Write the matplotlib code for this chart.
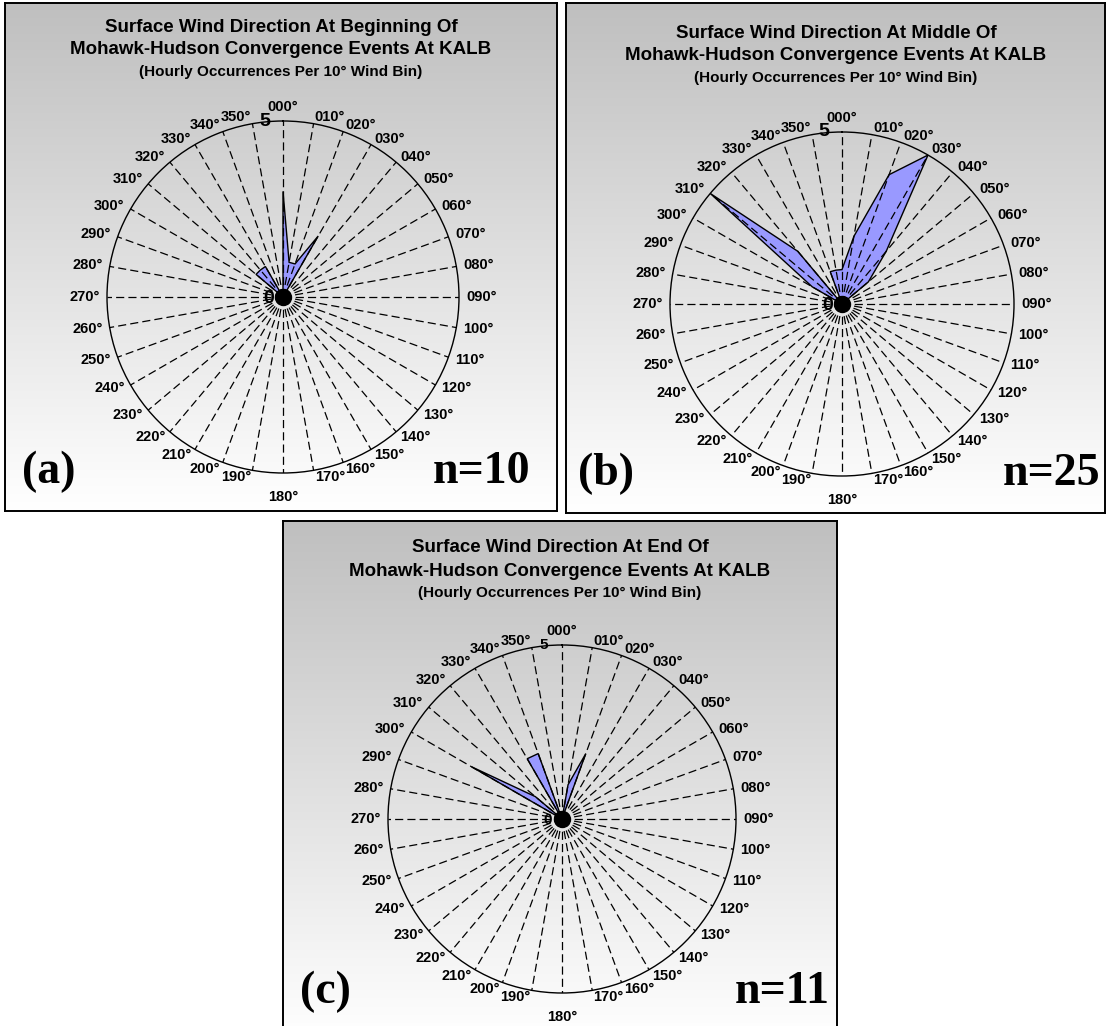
import numpy as np
import matplotlib
matplotlib.use("Agg")
import matplotlib.pyplot as plt

# direcciones (bins de 10 grados) y ocurrencias horarias por panel
direcciones = list(range(0, 360, 10))
conteo_inicio = [3, 1, 1, 2, 0, 0, 0, 0, 0, 0, 0, 0,
                 0, 0, 0, 0, 0, 0, 0, 0, 0, 0, 0, 0,
                 0, 0, 0, 0, 0, 0, 0, 1, 1, 1, 0, 0]
conteo_medio = [1, 2, 4, 5, 2, 1, 0, 0, 0, 0, 0, 0,
                0, 0, 0, 0, 0, 0, 0, 0, 0, 0, 0, 0,
                0, 0, 0, 0, 0, 0, 1, 5, 2, 0, 1, 1]
conteo_final = [0, 1, 2, 0, 0, 0, 0, 0, 0, 0, 0, 0,
                0, 0, 0, 0, 0, 0, 0, 0, 0, 0, 0, 0,
                0, 0, 0, 0, 0, 0, 3, 1, 0, 2, 2, 0]

titulos = ["Surface Wind Direction At Beginning Of",
           "Surface Wind Direction At Middle Of",
           "Surface Wind Direction At End Of"]
subtitulo2 = "Mohawk-Hudson Convergence Events At KALB"
subtitulo3 = "(Hourly Occurrences Per 10° Wind Bin)"
letras = ["(a)", "(b)", "(c)"]
n_eventos = ["n=10", "n=25", "n=11"]

W, H = 1107, 1026
fig = plt.figure(figsize=(W / 100, H / 100), dpi=100)
fig.patch.set_facecolor("white")
plt.rcParams["font.family"] = ["Liberation Sans", "DejaVu Sans"]


def px_rect(x0, y0, x1, y1):
    # rectangulo en pixeles -> fraccion de figura
    return [x0 / W, 1 - y1 / H, (x1 - x0) / W, (y1 - y0) / H]


def ftext(x, y, s, **kw):
    fig.text(x / W, 1 - y / H, s, **kw)


# ===============================
# Paneles: caja, fondo degradado, titulos
# ===============================
paneles = [
    dict(caja=(5, 3, 557, 511), c=(283, 297), R=176, ty=(27, 50, 72), tx=281,
         rs=14, let=(22, 472), n=(530, 472)),
    dict(caja=(566, 3, 1105, 513), c=(842, 304), R=172, ty=(33, 56, 78), tx=836,
         rs=14, let=(578, 474), n=(1100, 474)),
    dict(caja=(283, 521, 837, 1040), c=(562, 819), R=174, ty=(548, 571, 593), tx=560,
         rs=11, let=(300, 992), n=(830, 992)),
]
conteos = [conteo_inicio, conteo_medio, conteo_final]

grad = np.linspace(0.75, 1.0, 256).reshape(-1, 1)

for i, p in enumerate(paneles):
    x0, y0, x1, y1 = p["caja"]
    bg = fig.add_axes(px_rect(x0, y0, x1, y1))
    bg.imshow(np.dstack([grad, grad, grad]), aspect="auto", extent=(0, 1, 0, 1),
              origin="upper")
    bg.set_xticks([])
    bg.set_yticks([])
    for sp in bg.spines.values():
        sp.set_linewidth(1.4)
        sp.set_color("black")

    ftext(p["tx"], p["ty"][0], titulos[i], ha="center", va="center",
          fontsize=13.5, fontweight="bold", color="black")
    ftext(p["tx"], p["ty"][1], subtitulo2, ha="center", va="center",
          fontsize=13.5, fontweight="bold", color="black")
    ftext(p["tx"], p["ty"][2], subtitulo3, ha="center", va="center",
          fontsize=11, fontweight="bold", color="black")

    ftext(p["let"][0], p["let"][1], letras[i], ha="left", va="center",
          fontsize=33, fontweight="bold", family="Liberation Serif")
    ftext(p["n"][0], p["n"][1], n_eventos[i], ha="right", va="center",
          fontsize=33, fontweight="bold", family="Liberation Serif")

    # ===============================
    # Grafico radar (polar)
    # ===============================
    cx, cy = p["c"]
    R = p["R"]
    ax = fig.add_axes(px_rect(cx - R, cy - R, cx + R, cy + R), projection="polar")
    ax.patch.set_alpha(0)
    ax.set_theta_zero_location("N")
    ax.set_theta_direction(-1)
    ax.set_ylim(0, 5)
    ax.set_xticks([])
    ax.set_yticks([])
    ax.grid(False)
    ax.spines["polar"].set_linewidth(1.0)
    ax.spines["polar"].set_color("black")

    theta = np.deg2rad(direcciones)
    vals = np.array(conteos[i], dtype=float)
    th_c = np.append(theta, theta[0])
    v_c = np.append(vals, vals[0])
    ax.fill(th_c, v_c, facecolor="#9999ff", edgecolor="black", lw=1.0, zorder=2)

    for t in theta:
        ax.plot([t, t], [0, 5], color="black", lw=0.9, dashes=(6.5, 3.3), zorder=3)

    ax.plot([0], [0], "o", color="black", ms=11.5, zorder=4, clip_on=False)

    for d, t in zip(direcciones, theta):
        lab = f"{d:03d}°"
        s, c = np.sin(t), np.cos(t)
        if d == 0:
            ax.annotate(lab, (t, 5), xytext=(0, 5), textcoords="offset points",
                        ha="center", va="bottom", fontsize=10.5, fontweight="bold",
                        annotation_clip=False)
        elif d == 180:
            ax.annotate(lab, (t, 5), xytext=(0, -12), textcoords="offset points",
                        ha="center", va="top", fontsize=10.5, fontweight="bold",
                        annotation_clip=False)
        else:
            ax.annotate(lab, (t, 5), xytext=(5 * s, 5 * c), textcoords="offset points",
                        ha="left" if s > 0 else "right", va="center",
                        fontsize=10.5, fontweight="bold", annotation_clip=False)

    # etiquetas del eje radial
    ax.annotate("5", (0, 5), xytext=(-13, 0), textcoords="offset points",
                ha="center", va="center", fontsize=p["rs"], fontweight="bold",
                annotation_clip=False, zorder=6)
    ax.annotate("0", (0, 0), xytext=(-10, -1), textcoords="offset points",
                ha="center", va="center", fontsize=p["rs"], fontweight="bold",
                annotation_clip=False, zorder=6)

fig.savefig("out.png", dpi=100, facecolor="white")
